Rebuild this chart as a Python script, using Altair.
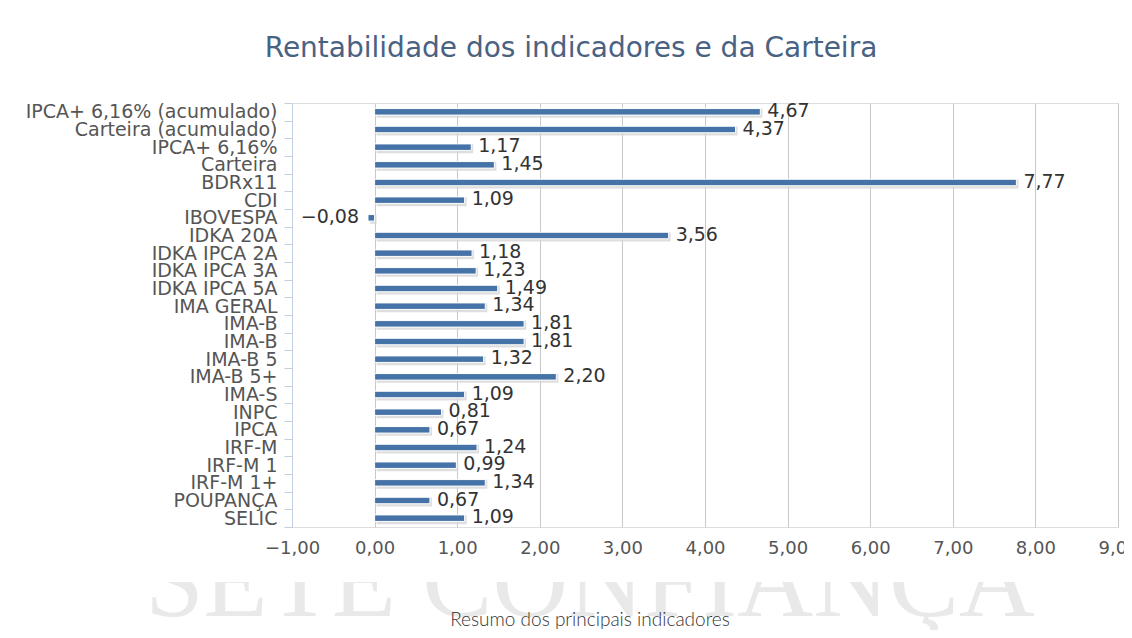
import json
import altair as alt
import pandas as pd

categories = [
    "IPCA+ 6,16% (acumulado)", "Carteira (acumulado)", "IPCA+ 6,16%", "Carteira",
    "BDRx11", "CDI", "IBOVESPA", "IDKA 20A", "IDKA IPCA 2A", "IDKA IPCA 3A",
    "IDKA IPCA 5A", "IMA GERAL", "IMA-B", "IMA-B", "IMA-B 5", "IMA-B 5+",
    "IMA-S", "INPC", "IPCA", "IRF-M", "IRF-M 1", "IRF-M 1+", "POUPANÇA", "SELIC",
]
values = [
    4.67, 4.37, 1.17, 1.45, 7.77, 1.09, -0.08, 3.56, 1.18, 1.23,
    1.49, 1.34, 1.81, 1.81, 1.32, 2.20, 1.09, 0.81, 0.67, 1.24,
    0.99, 1.34, 0.67, 1.09,
]
x_ticks = [-1, 0, 1, 2, 3, 4, 5, 6, 7, 8, 9]

title_text = "Rentabilidade dos indicadores e da Carteira"
subtitle_text = "Resumo dos principais indicadores"
watermark_text = "SETE CONFIANÇA"

df = pd.DataFrame({"idx": list(range(len(categories))), "name": categories, "value": values})

W, H = 826, 424
PAD_L, PAD_T = 284, 95
OX, OY = 8 + PAD_L, 8 + PAD_T  # page position of plot origin

label_expr = json.dumps(categories, ensure_ascii=False) + "[datum.value]"
num_fmt = "replace(format(datum.value, '.2f'), '.', ',')"

x_scale = alt.Scale(domain=[-1, 9], nice=False, zero=False)

# grid-only x axis (drawn behind the marks)
x_grid = alt.X(
    "value:Q",
    scale=x_scale,
    axis=alt.Axis(
        values=x_ticks, orient="bottom", title=None, grid=True,
        gridColor=alt.condition("datum.value == -1", alt.value("#c0d0e0"), alt.value("#c8c8c8")),
        domain=False, ticks=False, labels=False, zindex=0,
    ),
)
# label-only x axis (drawn above the marks)
x_lab = alt.X(
    "value:Q",
    scale=x_scale,
    axis=alt.Axis(
        values=x_ticks, orient="bottom", title=None, grid=False, domain=False, ticks=False,
        labelExpr=num_fmt, labelFlush=False, labelOverlap=False,
        labelFontSize=18, labelFont="DejaVu Sans", labelColor="#555555", labelPadding=12,
        zindex=1,
    ),
)
x_none = alt.X("value:Q", scale=x_scale, axis=None)

y_enc = alt.Y(
    "idx:O",
    sort=None,
    scale=alt.Scale(paddingInner=0, paddingOuter=0),
    axis=alt.Axis(
        labelExpr=label_expr,
        title=None,
        tickBand="extent",
        tickColor="#c0d0e0",
        domainColor="#c0d0e0",
        tickSize=8,
        labelFontSize=19,
        labelFont="DejaVu Sans",
        labelColor="#555555",
        labelPadding=7,
        labelLimit=400,
        labelOverlap=False,
        grid=False,
    ),
)

base = alt.Chart(df)

wm_df = pd.DataFrame({"t": [watermark_text]})
watermark = alt.Chart(wm_df).mark_text(
    font="Liberation Serif", fontSize=105, color="#e9e9e9", align="center", baseline="alphabetic"
).encode(text="t:N", x=alt.value(590 - OX), y=alt.value(616 - OY))

cover = alt.Chart(wm_df).mark_rect(color="white").encode(
    x=alt.value(-OX), x2=alt.value(1132 - OX), y=alt.value(531 - OY), y2=alt.value(582 - OY)
)

shadow = base.mark_bar(size=9, color="#d6d6d6", opacity=0.8, xOffset=2, x2Offset=2, yOffset=1.5).encode(
    x=x_none, x2=alt.datum(0), y=y_enc
)
bars = base.mark_bar(size=6.5, color="#4572a7", stroke="white", strokeWidth=1).encode(
    x=x_grid, x2=alt.datum(0), y=y_enc
)

pos_labels = base.transform_filter("datum.value >= 0").transform_calculate(
    lbl=num_fmt
).mark_text(align="left", baseline="middle", dx=7, dy=-1, fontSize=19, font="DejaVu Sans", color="#333333").encode(
    x=x_lab, y=alt.Y("idx:O", sort=None), text="lbl:N"
)
neg_labels = base.transform_filter("datum.value < 0").transform_calculate(
    lbl=num_fmt
).mark_text(align="right", baseline="middle", dx=-9, dy=-1, fontSize=19, font="DejaVu Sans", color="#333333").encode(
    x=x_none, y=alt.Y("idx:O", sort=None), text="lbl:N"
)

t_df = pd.DataFrame({"t": [title_text], "s": [subtitle_text]})
title = alt.Chart(t_df).mark_text(
    font="DejaVu Sans", fontSize=28, color="#4a6282", align="center", baseline="alphabetic"
).encode(text="t:N", x=alt.value(571 - OX), y=alt.value(57 - OY))
subtitle = alt.Chart(t_df).mark_text(
    font="Lato", fontWeight=300, fontSize=19, color="#333333", align="center", baseline="alphabetic"
).encode(text="s:N", x=alt.value(590 - OX), y=alt.value(626 - OY))

chart = alt.layer(watermark, cover, shadow, bars, pos_labels, neg_labels, title, subtitle).resolve_axis(
    x="independent"
).properties(
    width=W,
    height=H,
    autosize=alt.AutoSizeParams(type="none"),
    padding={"left": PAD_L, "top": PAD_T, "right": 1116 - PAD_L - W, "bottom": 622 - PAD_T - H},
).configure_view(stroke=None).configure(background="white")

chart.save("out.html", embed_options={"renderer": "svg", "actions": False})
